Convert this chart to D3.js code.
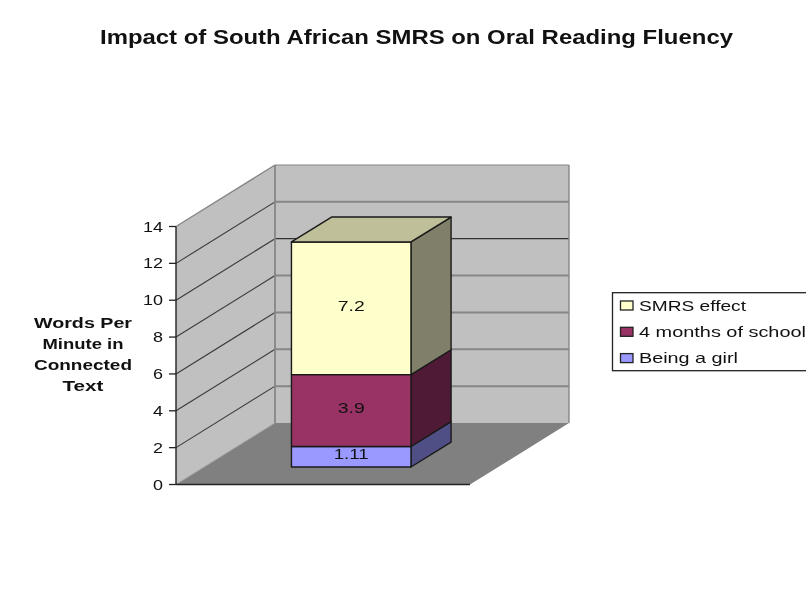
<!DOCTYPE html>
<html><head><meta charset="utf-8">
<script src="https://cdnjs.cloudflare.com/ajax/libs/d3/7.8.5/d3.min.js"></script>
<style>
html,body{margin:0;padding:0;background:#fff;overflow:hidden}
svg{display:block;filter:blur(0.4px)}
text{font-family:"Liberation Sans",Arial,sans-serif;fill:#111}
</style></head><body>
<svg id="c" width="806" height="592"></svg>
<script>
const chartTitle = "Impact of South African SMRS on Oral Reading Fluency";
const axisTitle = ["Words Per","Minute in","Connected","Text"];
const categories = ["Oral reading fluency"];
const seriesNames = ["Being a girl","4 months of school","SMRS effect"];
const seriesValues = [1.11,3.9,7.2];
const valueLabels = ["1.11","3.9","7.2"];
const frontColors = ["#9999ff","#993366","#ffffcc"];
const sideColors = ["#4f4f85","#4f1a35","#80806a"];
const topColor = "#bfbf99";
const yTicks = [0,2,4,6,8,10,12,14];
const backDarkTicks = [10];

const svg = d3.select("#c");
const y = d3.scaleLinear().domain([0,14]).range([484.5,226.5]);
const x = d3.scaleBand().domain(categories).range([176,470]).paddingInner(0.4219).paddingOuter(0.4219);
const depthX = d3.scaleLinear().domain([0,1]).range([0,99]);
const depthY = d3.scaleLinear().domain([0,1]).range([0,-61.5]);
const pt = (px,v,d)=>[px+depthX(d),y(v)+depthY(d)];
const poly = (pts,fill,stroke,sw)=>svg.append("polygon")
  .attr("points",pts.map(p=>p.join(",")).join(" "))
  .attr("fill",fill).attr("stroke",stroke||"none").attr("stroke-width",sw||0)
  .attr("stroke-linejoin","round");
const line = (a,b,stroke,sw)=>svg.append("line")
  .attr("x1",a[0]).attr("y1",a[1]).attr("x2",b[0]).attr("y2",b[1])
  .attr("stroke",stroke).attr("stroke-width",sw);
const label = (s,px,py,size,opts={})=>{
  const t = svg.append("text").attr("x",px).attr("y",py).attr("font-size",size)
    .attr("text-anchor",opts.anchor||"start").attr("font-weight",opts.bold?"bold":"normal").text(s);
  if(opts.len) t.attr("textLength",opts.len).attr("lengthAdjust","spacingAndGlyphs");
  return t;
};

const x0 = x.range()[0], x1 = x.range()[1];

// floor and walls
poly([pt(x0,0,0),pt(x1,0,0),pt(x1,0,1),pt(x0,0,1)],"#808080");
poly([pt(x0,0,1),pt(x1,0,1),pt(x1,14,1),pt(x0,14,1)],"#c0c0c0");
poly([pt(x0,0,0),pt(x0,0,1),pt(x0,14,1),pt(x0,14,0)],"#c0c0c0");

// gridlines
yTicks.filter(t=>t>0).forEach(t=>{
  const dark = backDarkTicks.includes(t);
  line(pt(x0,t,1),pt(x1,t,1), dark?"#333":"#868686", dark?1.3:(t===14?1.2:2));
  line(pt(x0,t,0),pt(x0,t,1), t===14?"#868686":"#3a3a3a", t===14?1.4:1.1);
});
line(pt(x0,0,1),pt(x0,14,1),"#868686",1.8);
line(pt(x1,0,1),pt(x1,14,1),"#868686",1.4);
line(pt(x0,0,0),pt(x0,0,1),"#9a9a9a",1);

// axes and tick labels
line([x0,y(0)],[x0,y(14)],"#222",1.4);
line([x0,y(0)],[x1,y(0)],"#222",1.4);
yTicks.forEach(t=>{
  line([x0-7,y(t)],[x0,y(t)],"#222",1.3);
  const s = String(t);
  label(s,x0-13,y(t)+5,14.5,{anchor:"end",len:s.length*10});
});

// stacked 3D bar
const barStart = 0.285, barEnd = 0.69;
const barL = x(categories[0]), barR = barL + x.bandwidth();
const stack = d3.cumsum(seriesValues);
seriesValues.forEach((v,i)=>{
  const a = i ? stack[i-1] : 0, b = stack[i];
  poly([pt(barR,a,barStart),pt(barR,b,barStart),pt(barR,b,barEnd),pt(barR,a,barEnd)],sideColors[i],"#1a1a1a",1.4);
  poly([pt(barL,a,barStart),pt(barR,a,barStart),pt(barR,b,barStart),pt(barL,b,barStart)],frontColors[i],"#1a1a1a",1.4);
  const mid = (a+b)/2, c = pt((barL+barR)/2,mid,barStart);
  label(valueLabels[i],c[0],c[1]+2.5,14.5,{anchor:"middle",len:valueLabels[i].length===4?35:27});
});
const topV = stack[stack.length-1];
poly([pt(barL,topV,barStart),pt(barR,topV,barStart),pt(barR,topV,barEnd),pt(barL,topV,barEnd)],topColor,"#1a1a1a",1.4);

// titles
label(chartTitle,100,44,21,{bold:true,len:633});
const axisWidths = [98,81,98,41];
axisTitle.forEach((s,i)=>label(s,83,328+i*21,14.5,{bold:true,anchor:"middle",len:axisWidths[i]}));

// legend
svg.append("rect").attr("x",612.5).attr("y",292.7).attr("width",210).attr("height",78)
  .attr("fill","#fff").attr("stroke","#222").attr("stroke-width",1.3);
const legendOrder = [2,1,0];
const legendWidths = [107,167,99];
legendOrder.forEach((k,i)=>{
  const cy = 305.5+i*26.3;
  svg.append("rect").attr("x",620.5).attr("y",cy-4.5).attr("width",12.5).attr("height",9)
    .attr("fill",frontColors[k]).attr("stroke","#222").attr("stroke-width",1.3);
  label(seriesNames[k],639,cy+5,14.5,{len:legendWidths[i]});
});
</script>
</body></html>
